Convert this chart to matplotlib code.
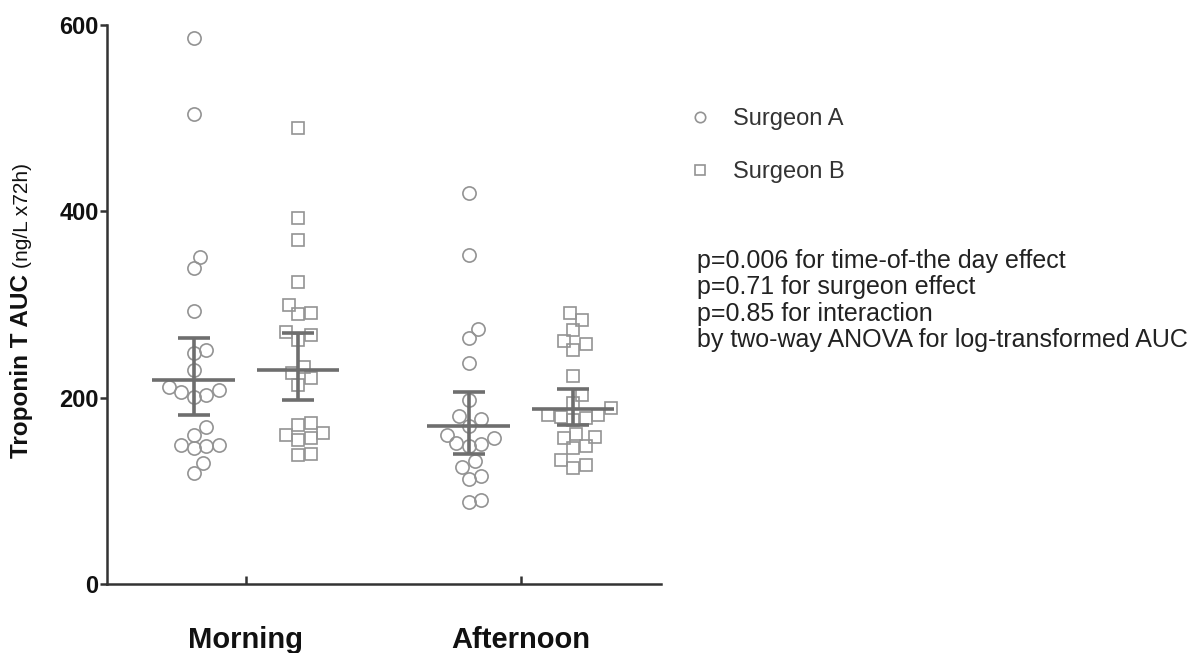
import matplotlib
matplotlib.use('Agg')
import matplotlib.pyplot as plt
from matplotlib.lines import Line2D
import numpy as np

plt.rcParams['font.family'] = ['Liberation Sans', 'DejaVu Sans']

# data
groups = ['Morning', 'Afternoon']
surgeons = ['Surgeon A', 'Surgeon B']

morning_a = [586, 505, 351, 339, 293, 251, 248, 230, 211, 208, 206, 203, 201,
             168, 160, 149, 149, 148, 146, 130, 119]
morning_b = [489, 393, 369, 324, 299, 291, 290, 270, 267, 262, 233, 226, 221,
             214, 173, 171, 162, 160, 157, 155, 140, 138]
afternoon_a = [420, 353, 274, 264, 237, 197, 180, 177, 170, 160, 157, 151, 150,
               148, 132, 126, 116, 113, 90, 88]
afternoon_b = [291, 283, 273, 261, 258, 251, 223, 203, 194, 189, 181, 181, 179,
               178, 176, 161, 158, 157, 148, 146, 133, 128, 125]

# mean and 95% CI shown as bars
mean_a = [219, 170]
low_a = [181, 140]
high_a = [264, 206]
mean_b = [230, 188]
low_b = [197, 171]
high_b = [269, 209]

stats_text = ("p=0.006 for time-of-the day effect\n"
              "p=0.71 for surgeon effect\n"
              "p=0.85 for interaction\n"
              "by two-way ANOVA for log-transformed AUC")

point_col = '#939393'
bar_col = '#6e6e6e'
axis_col = '#333333'
ms = 9.5
offset = 0.19


def swarm(values, center, ax, diam):
    """simple beeswarm: x positions in data units so markers do not overlap"""
    p0 = ax.transData.transform((0, 0))
    p1 = ax.transData.transform((1, 1))
    sx, sy = p1 - p0
    step = diam / 4
    placed = []
    xs = np.zeros(len(values))
    for i in np.argsort(values):
        y = values[i] * sy
        for k in range(200):
            off = ((k + 1) // 2) * step * (1 if k % 2 else -1)
            if all(np.hypot(off - px, y - py) >= diam for px, py in placed):
                break
        placed.append((off, y))
        xs[i] = center + off / sx
    return xs


fig = plt.figure(figsize=(12, 6.53), dpi=100)
ax = fig.add_axes([0.0892, 0.1057, 0.4617, 0.856])
ax.set_xlim(-0.505, 1.51)
ax.set_ylim(0, 600)

diam = ms * 100 / 72 * 0.95
series = [(morning_a, morning_b), (afternoon_a, afternoon_b)]
for g, (va, vb) in enumerate(series):
    xa = swarm(va, g - offset, ax, diam)
    xb = swarm(vb, g + offset, ax, diam)
    ax.plot(xa, va, 'o', ms=ms, mfc='none', mec=point_col, mew=1.2, clip_on=False)
    ax.plot(xb, vb, 's', ms=ms * 0.95, mfc='none', mec=point_col, mew=1.2, clip_on=False)

xs_a = np.arange(len(groups)) - offset
xs_b = np.arange(len(groups)) + offset
for xs, m, lo, hi in [(xs_a, mean_a, low_a, high_a), (xs_b, mean_b, low_b, high_b)]:
    m = np.array(m)
    ax.errorbar(xs, m, yerr=[m - np.array(lo), np.array(hi) - m], fmt='none',
                ecolor=bar_col, elinewidth=2.6, capsize=11.5, capthick=2.6, zorder=3)
    ax.hlines(m, xs - 0.15, xs + 0.15, colors=bar_col, lw=2.6, zorder=3)

for s in ['top', 'right']:
    ax.spines[s].set_visible(False)
for s in ['left', 'bottom']:
    ax.spines[s].set_color(axis_col)
    ax.spines[s].set_linewidth(1.8)

ax.set_yticks([0, 200, 400, 600])
ax.tick_params(axis='y', direction='out', length=5, width=1.8, color=axis_col,
               labelsize=17, pad=1)
ax.set_xticks(range(len(groups)))
ax.set_xticklabels(groups)
ax.tick_params(axis='x', direction='in', length=6, width=1.8, color=axis_col,
               labelsize=21, pad=30)
for lab in ax.get_yticklabels() + ax.get_xticklabels():
    lab.set_fontweight('bold')
    lab.set_color('#111111')

# y label in two parts: bold name and regular units
t1 = fig.text(22 / 1200, 1 - 458 / 653, 'Troponin T AUC', rotation=90,
              ha='center', va='bottom', fontsize=17.5, fontweight='bold', color='#111111')
fig.canvas.draw()
bb = t1.get_window_extent()
fig.text(22 / 1200 + 1 / 1200, (bb.y1 + 6) / 653, '(ng/L x72h)', rotation=90,
         ha='center', va='bottom', fontsize=15, color='#111111')

handles = [Line2D([], [], marker='o', ls='', ms=7.5, mfc='none', mec=point_col, mew=1.2),
           Line2D([], [], marker='s', ls='', ms=7, mfc='none', mec=point_col, mew=1.2)]
leg = fig.legend(handles, surgeons, loc='upper left', bbox_to_anchor=(0.5734, 0.834),
                 frameon=False, fontsize=17, handlelength=1.0, handletextpad=0.9,
                 labelspacing=1.3, borderpad=0, borderaxespad=0)
for t in leg.get_texts():
    t.set_color('#333333')

fig.text(697 / 1200, 1 - 249 / 653, stats_text, ha='left', va='top',
         fontsize=18, color='#222222', linespacing=1.13)

fig.savefig('out.png', dpi=100)
